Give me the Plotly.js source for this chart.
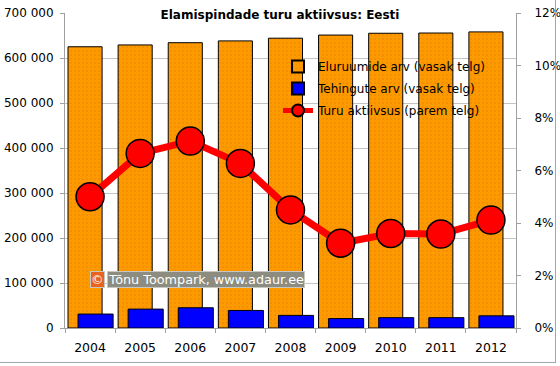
<!DOCTYPE html>
<html>
<head>
<meta charset="utf-8">
<script src="https://cdn.plot.ly/plotly-3.0.1.min.js"></script>
<style>
html,body{margin:0;padding:0;background:#fff;}
#wrap{position:relative;width:560px;height:366px;overflow:hidden;}
#chart{position:absolute;left:0;top:0;width:560px;height:366px;}
#frame{position:absolute;left:-2px;top:-2px;width:558px;height:365px;box-sizing:border-box;border:1px solid #a6a6a6;pointer-events:none;}
</style>
</head>
<body>
<div id="wrap"><div id="chart"></div><div id="frame"></div></div>
<script>
const years = ['2004','2005','2006','2007','2008','2009','2010','2011','2012'];
const eluruumid = [625000, 629000, 634000, 638000, 644000, 651000, 655000, 655500, 658000];
const tehingud = [31000, 42000, 45000, 39000, 28000, 21000, 23000, 23000, 27000];
const aktiivsus = [0.0500, 0.0665, 0.0712, 0.0627, 0.0450, 0.0323, 0.0360, 0.0358, 0.0411];
const seriesNames = ['Eluruumide arv (vasak telg)', 'Tehingute arv (vasak telg)', 'Turu aktiivsus (parem telg)'];
const chartTitle = 'Elamispindade turu aktiivsus: Eesti';
const watermark = 'Tõnu Toompark, www.adaur.ee';

const font = 'DejaVu Sans, Verdana, sans-serif';
const L = 65, R = 516, T = 13, B = 328;
const px = x => (x - L) / (R - L);
const py = y => (B - y) / (B - T);

const traces = [
  {
    type: 'bar', name: seriesNames[0], legendgroup: 'g1', x: years, y: eluruumid, yaxis: 'y',
    offset: -0.44, width: 0.68,
    marker: {color: '#FF9900', line: {color: '#000', width: 1},
      pattern: {shape: '.', bgcolor: '#FF9900', fgcolor: '#e08600', size: 4, solidity: 0.12}}
  },
  {
    type: 'bar', name: seriesNames[1], legendgroup: 'g2', x: years, y: tehingud, yaxis: 'y',
    offset: -0.24, width: 0.70,
    marker: {color: '#0000FF', line: {color: '#000', width: 1}}
  },
  {
    type: 'scatter', mode: 'lines+markers', name: seriesNames[2], legendgroup: 'g3', x: years, y: aktiivsus, yaxis: 'y2',
    line: {color: '#FF0000', width: 7},
    marker: {color: '#FF0000', size: 28, line: {color: '#000', width: 1.5}}
  }
];

const layout = {
  width: 560, height: 366,
  margin: {l: L, r: 560 - R, t: T, b: 366 - B, pad: 0},
  paper_bgcolor: '#fff', plot_bgcolor: '#fff',
  separators: ', ',
  font: {family: font, size: 12, color: '#000'},
  barmode: 'overlay',
  showlegend: true,
  title: {text: '<b>' + chartTitle + '</b>', x: 0.5, xanchor: 'center', y: 1 - 15/366, yanchor: 'middle',
    font: {family: font, size: 12, color: '#000'}},
  xaxis: {type: 'category', range: [-0.5, 8.5], autorange: false, tickson: 'boundaries', ticks: 'outside',
    ticklen: 4, tickcolor: '#a0a0a0', ticklabelstandoff: 8,
    showline: true, linecolor: '#a0a0a0', showgrid: false, fixedrange: true,
    tickfont: {family: font, size: 12.5}},
  yaxis: {range: [0, 700000], dtick: 100000, tickformat: ',d', ticks: 'outside', ticklen: 4,
    ticklabelstandoff: 4,
    tickcolor: '#a0a0a0', showline: true, linecolor: '#a0a0a0', showgrid: true, gridcolor: '#c4c4c4',
    zeroline: false, tickfont: {family: font, size: 12}},
  yaxis2: {overlaying: 'y', side: 'right', range: [0, 0.12], dtick: 0.02, tickformat: '.0%',
    ticks: 'outside', ticklen: 4, ticklabelstandoff: 11, tickcolor: '#a0a0a0', showline: true, linecolor: '#a0a0a0',
    showgrid: false, zeroline: false, tickfont: {family: font, size: 12}},
  legend: {x: px(278), y: py(52), xanchor: 'left', yanchor: 'top', bgcolor: 'rgba(0,0,0,0)',
    borderwidth: 0, font: {family: font, size: 12}, itemsizing: 'constant', traceorder: 'grouped',
    tracegroupgap: 3, itemwidth: 30},
  annotations: [
    {xref: 'paper', yref: 'paper', x: px(90), y: py(279), xanchor: 'left', yanchor: 'middle',
      text: '©', showarrow: false, font: {family: font, size: 12.5, color: '#fff'},
      bgcolor: '#E8641E', bordercolor: '#c8c8c0', borderwidth: 1, borderpad: 0},
    {xref: 'paper', yref: 'paper', x: px(107), y: py(279), xanchor: 'left', yanchor: 'middle',
      text: watermark, showarrow: false, font: {family: font, size: 12.8, color: '#fff'},
      bgcolor: '#8c8c80', bordercolor: '#c8c8c0', borderwidth: 1, borderpad: 0}
  ]
};

Plotly.newPlot('chart', traces, layout, {staticPlot: true, displayModeBar: false});
</script>
</body>
</html>
